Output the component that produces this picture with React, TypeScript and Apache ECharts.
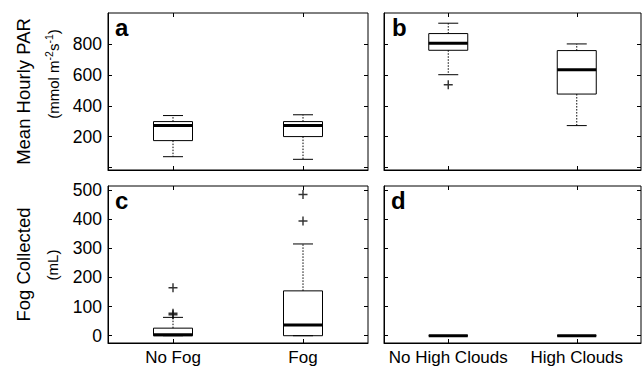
import React, { useEffect, useRef } from "react";
import * as echarts from "echarts";

// Categories
const fogCategories = ["No Fog", "Fog"];
const cloudCategories = ["No High Clouds", "High Clouds"];

// Box statistics: [lower whisker, Q1, median, Q3, upper whisker]
const parFogBoxes = [
  [71, 175, 272, 298, 337],
  [54, 201, 272, 298, 342],
];
const parCloudBoxes = [
  [601, 759, 804, 867, 934],
  [272, 476, 633, 757, 800],
];
const fogFogBoxes = [
  [0, 0, 3, 26, 63],
  [0, 0, 37, 154, 315],
];
const fogCloudBoxes = [
  [0, 0, 0, 0, 0],
  [0, 0, 0, 0, 0],
];

// Outliers: [category index, value]
const parFogOutliers: number[][] = [];
const parCloudOutliers = [[0, 536]];
const fogFogOutliers = [
  [0, 72],
  [0, 77],
  [0, 165],
  [1, 394],
  [1, 485],
];
const fogCloudOutliers: number[][] = [];

// Ticks
const parTicks = [0, 200, 400, 600, 800];
const parLabels = [200, 400, 600, 800];
const fogTicks = [0, 100, 200, 300, 400, 500];
const fogLabels = [0, 100, 200, 300, 400, 500];

const FONT = "'Liberation Sans', Arial, Helvetica, sans-serif";

function renderBox(_params: any, api: any) {
  const idx = api.value(0);
  const c = (v: number) => api.coord([idx, v]);
  const lo = c(api.value(1));
  const cx = lo[0];
  const yLo = lo[1];
  const yQ1 = c(api.value(2))[1];
  const yMed = c(api.value(3))[1];
  const yQ3 = c(api.value(4))[1];
  const yHi = c(api.value(5))[1];
  const hb = 19.5;
  const hc = 10;
  const solid = { stroke: "#000", lineWidth: 1, fill: null };
  const dotted = { stroke: "#000", lineWidth: 1, lineDash: [1.5, 1.5], fill: null };
  return {
    type: "group",
    children: [
      { type: "line", shape: { x1: cx, y1: yQ3, x2: cx, y2: yHi }, style: dotted },
      { type: "line", shape: { x1: cx, y1: yQ1, x2: cx, y2: yLo }, style: dotted },
      { type: "line", shape: { x1: cx - hc, y1: yHi, x2: cx + hc, y2: yHi }, style: solid },
      { type: "line", shape: { x1: cx - hc, y1: yLo, x2: cx + hc, y2: yLo }, style: solid },
      {
        type: "rect",
        shape: { x: cx - hb, y: yQ3, width: 2 * hb, height: yQ1 - yQ3 },
        style: { stroke: "#000", lineWidth: 1, fill: "none" },
      },
      {
        type: "line",
        shape: { x1: cx - hb, y1: yMed, x2: cx + hb, y2: yMed },
        style: { stroke: "#000", lineWidth: 3, fill: null },
      },
    ],
  };
}

const panels = [
  {
    grid: { left: 108, top: 13, width: 260, height: 157 },
    cats: fogCategories, boxes: parFogBoxes, outliers: parFogOutliers,
    min: -15, max: 1000, ticks: parTicks, labels: parLabels, showY: true, showX: false,
  },
  {
    grid: { left: 384, top: 13, width: 257, height: 157 },
    cats: cloudCategories, boxes: parCloudBoxes, outliers: parCloudOutliers,
    min: -15, max: 1000, ticks: parTicks, labels: parLabels, showY: false, showX: false,
  },
  {
    grid: { left: 108, top: 186, width: 260, height: 157 },
    cats: fogCategories, boxes: fogFogBoxes, outliers: fogFogOutliers,
    min: -25, max: 514, ticks: fogTicks, labels: fogLabels, showY: true, showX: true,
  },
  {
    grid: { left: 384, top: 186, width: 257, height: 157 },
    cats: cloudCategories, boxes: fogCloudBoxes, outliers: fogCloudOutliers,
    min: -25, max: 514, ticks: fogTicks, labels: fogLabels, showY: false, showX: true,
  },
];

const panelLetters = ["a", "b", "c", "d"];

function buildOption() {
  const grid: any[] = [];
  const xAxis: any[] = [];
  const yAxis: any[] = [];
  const series: any[] = [];
  const tick = { show: true, inside: true, length: 4, lineStyle: { color: "#000", width: 1 } };

  panels.forEach((p, i) => {
    grid.push({
      ...p.grid,
      show: true,
      borderColor: "#000",
      borderWidth: 1,
      backgroundColor: "transparent",
      containLabel: false,
      outerBoundsMode: "none",
    });
    xAxis.push({
      type: "category",
      gridIndex: i,
      position: "bottom",
      data: p.cats,
      boundaryGap: true,
      axisLine: { show: true, onZero: false, lineStyle: { color: "#000", width: 1 } },
      axisTick: { ...tick, alignWithLabel: true },
      axisLabel: {
        show: p.showX, color: "#000", fontSize: 17, fontFamily: FONT, margin: 6, interval: 0,
      },
      splitLine: { show: false },
    });
    xAxis.push({
      type: "category",
      gridIndex: i,
      position: "top",
      data: p.cats,
      boundaryGap: true,
      axisLine: { show: false, onZero: false },
      axisTick: { ...tick, alignWithLabel: true },
      axisLabel: { show: false },
      splitLine: { show: false },
    });
    yAxis.push({
      type: "value",
      gridIndex: i,
      position: "left",
      min: p.min,
      max: p.max,
      axisLine: { show: true, onZero: false, lineStyle: { color: "#000", width: 1 } },
      axisTick: { ...tick, customValues: p.ticks },
      axisLabel: {
        show: p.showY, color: "#000", fontSize: 17.5, fontFamily: FONT, margin: 6,
        customValues: p.labels,
      },
      splitLine: { show: false },
    });
    yAxis.push({
      type: "value",
      gridIndex: i,
      position: "right",
      min: p.min,
      max: p.max,
      axisLine: { show: false, onZero: false },
      axisTick: { ...tick, customValues: p.ticks },
      axisLabel: { show: false, customValues: p.labels },
      splitLine: { show: false },
    });
    series.push({
      type: "custom",
      xAxisIndex: 2 * i,
      yAxisIndex: 2 * i,
      renderItem: renderBox,
      encode: { x: 0, y: [1, 2, 3, 4, 5] },
      data: p.boxes.map((b, k) => [k, ...b]),
      silent: true,
      clip: false,
    });
    if (p.outliers.length) {
      series.push({
        type: "scatter",
        xAxisIndex: 2 * i,
        yAxisIndex: 2 * i,
        symbol: "path://M4.2,0H5.8V10H4.2Z M0,4.2H10V5.8H0Z",
        symbolSize: 9,
        itemStyle: { color: "#000" },
        data: p.outliers,
        silent: true,
      });
    }
  });

  const graphic: any[] = [];
  const letterPos = [
    [115, 13],
    [392, 13],
    [115, 186],
    [391, 186],
  ];
  panelLetters.forEach((l, i) => {
    graphic.push({
      type: "text",
      x: letterPos[i][0],
      y: letterPos[i][1] + 14.5,
      silent: true,
      style: {
        text: l,
        fontSize: 24,
        fontWeight: "bold",
        fontFamily: FONT,
        fill: "#000",
        align: "left",
        verticalAlign: "middle",
      },
    });
  });

  // Y-axis titles
  graphic.push({
    type: "text",
    x: 23,
    y: 91.5,
    rotation: Math.PI / 2,
    silent: true,
    style: {
      text: "Mean Hourly PAR",
      fontSize: 18.5,
      fontFamily: FONT,
      fill: "#000",
      align: "center",
      verticalAlign: "middle",
    },
  });
  graphic.push({
    type: "text",
    x: 52,
    y: 74,
    rotation: Math.PI / 2,
    silent: true,
    style: {
      text: "{n|(mmol m}{s|-2}{n|s}{s|-1}{n|)}",
      fontFamily: FONT,
      fill: "#000",
      align: "center",
      verticalAlign: "middle",
      rich: {
        n: { fontSize: 15, fontFamily: FONT, fill: "#000", lineHeight: 18, verticalAlign: "bottom" },
        s: { fontSize: 10.5, fontFamily: FONT, fill: "#000", lineHeight: 10, verticalAlign: "top" },
      },
    },
  });
  graphic.push({
    type: "text",
    x: 23,
    y: 264.5,
    rotation: Math.PI / 2,
    silent: true,
    style: {
      text: "Fog Collected",
      fontSize: 18.5,
      fontFamily: FONT,
      fill: "#000",
      align: "center",
      verticalAlign: "middle",
    },
  });
  graphic.push({
    type: "text",
    x: 52,
    y: 265,
    rotation: Math.PI / 2,
    silent: true,
    style: {
      text: "(mL)",
      fontSize: 15,
      fontFamily: FONT,
      fill: "#000",
      align: "center",
      verticalAlign: "middle",
    },
  });

  return {
    animation: false,
    backgroundColor: "#ffffff",
    grid,
    xAxis,
    yAxis,
    series,
    graphic,
  };
}

export default function App() {
  const ref = useRef<HTMLDivElement>(null);
  useEffect(() => {
    if (!ref.current) return;
    const chart = echarts.init(ref.current, null, { renderer: "svg" });
    chart.setOption(buildOption() as any);
    return () => chart.dispose();
  }, []);
  return (
    <div
      ref={ref}
      style={{ position: "fixed", left: 0, top: 0, width: 643, height: 368, background: "#fff" }}
    />
  );
}
